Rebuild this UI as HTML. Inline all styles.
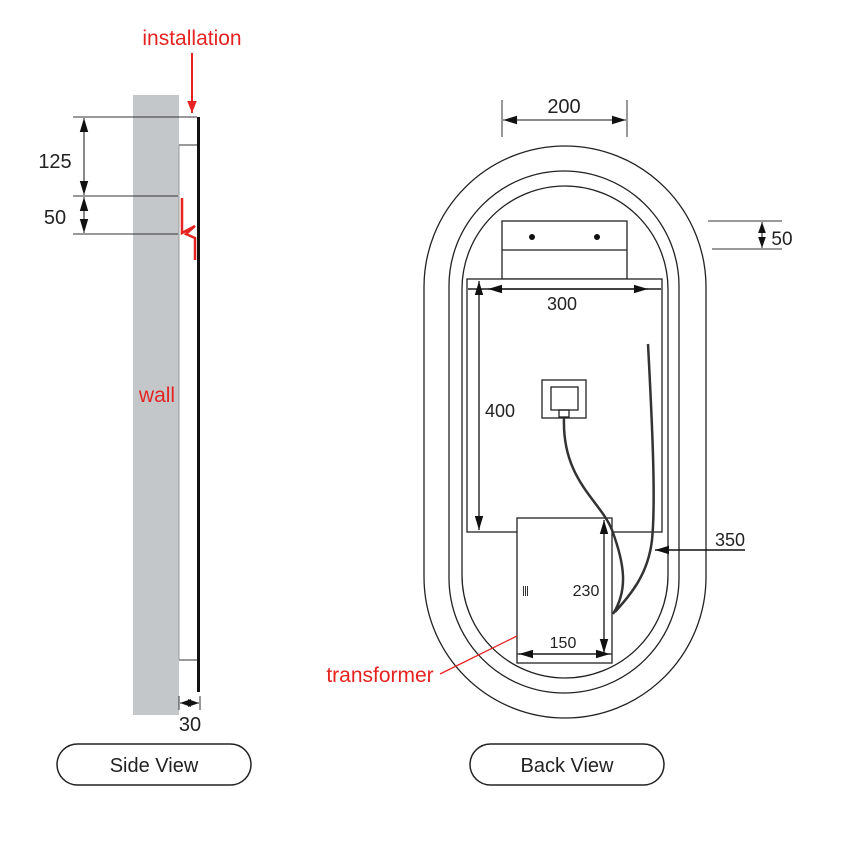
<!DOCTYPE html>
<html><head><meta charset="utf-8"><style>
html,body{margin:0;padding:0;background:#fff;}
svg{display:block}
text{font-family:"Liberation Sans",sans-serif;}
</style></head><body>
<svg width="852" height="852" viewBox="0 0 852 852" xmlns="http://www.w3.org/2000/svg">
<defs>
<marker id="a" viewBox="0 0 10 10" refX="10" refY="5" markerWidth="11" markerHeight="11" orient="auto-start-reverse" markerUnits="userSpaceOnUse"><path d="M0,1.5 L10,5 L0,8.5 Z" fill="#111"/></marker>
<marker id="b" viewBox="0 0 10 10" refX="10" refY="5" markerWidth="14" markerHeight="14" orient="auto-start-reverse" markerUnits="userSpaceOnUse"><path d="M0,2 L10,5 L0,8 Z" fill="#111"/></marker>
<marker id="r" viewBox="0 0 10 10" refX="10" refY="5" markerWidth="12" markerHeight="12" orient="auto" markerUnits="userSpaceOnUse"><path d="M0,1 L10,5 L0,9 Z" fill="#e52421"/></marker>
</defs>
<!-- SIDE VIEW -->
<text x="192" y="45" fill="#e52421" font-size="21" text-anchor="middle">installation</text>
<line x1="192" y1="53" x2="192" y2="113" stroke="#e52421" stroke-width="2" marker-end="url(#r)"/>
<rect x="133" y="95" width="46" height="620" fill="#c4c7ca"/>
<rect x="179" y="144" width="18" height="517" fill="#fff"/>
<line x1="179" y1="145" x2="197" y2="145" stroke="#333"/>
<line x1="179" y1="660" x2="197" y2="660" stroke="#333"/>
<line x1="179" y1="145" x2="179" y2="660" stroke="#999"/>
<line x1="198.5" y1="117" x2="198.5" y2="692" stroke="#111" stroke-width="3"/>
<line x1="73" y1="117" x2="197" y2="117" stroke="#333"/>
<line x1="73" y1="196" x2="178" y2="196" stroke="#333"/>
<line x1="73" y1="234" x2="178" y2="234" stroke="#333"/>
<line x1="84" y1="118" x2="84" y2="195" stroke="#111" marker-start="url(#b)" marker-end="url(#b)"/>
<line x1="84" y1="197" x2="84" y2="233" stroke="#111" marker-start="url(#b)" marker-end="url(#b)"/>
<text x="55" y="168" font-size="20" text-anchor="middle" fill="#222">125</text>
<text x="55" y="224" font-size="20" text-anchor="middle" fill="#222">50</text>
<path d="M182,198 L182,233 L195,226 L186,234 L195,238 L195,260" fill="none" stroke="#e52421" stroke-width="2.5"/>
<text x="157" y="402" fill="#e52421" font-size="21" text-anchor="middle">wall</text>
<line x1="179" y1="696" x2="179" y2="710" stroke="#333"/>
<line x1="200" y1="696" x2="200" y2="710" stroke="#333"/>
<line x1="180" y1="703" x2="199" y2="703" stroke="#111" marker-start="url(#a)" marker-end="url(#a)"/>
<text x="190" y="731" font-size="20" text-anchor="middle" fill="#222">30</text>
<rect x="57" y="744" width="194" height="41" rx="20.5" fill="#fff" stroke="#222" stroke-width="1.5"/>
<text x="154" y="772" font-size="20" text-anchor="middle" fill="#222">Side View</text>
<!-- BACK VIEW -->
<g fill="none" stroke="#222" stroke-width="1.3">
<rect x="424" y="146" width="282" height="572" rx="141"/>
<rect x="449" y="171" width="230" height="522" rx="115"/>
<rect x="462" y="186" width="206" height="492" rx="103"/>
<rect x="502" y="221" width="125" height="58" fill="#fff"/>
<line x1="502" y1="250" x2="627" y2="250"/>
<rect x="467" y="279" width="195" height="253" fill="#fff"/>
<rect x="542" y="380" width="44" height="38"/>
<rect x="551" y="387" width="27" height="23"/>
<rect x="559" y="410" width="10" height="7"/>
</g>
<circle cx="532" cy="237" r="3" fill="#111"/>
<circle cx="597" cy="237" r="3" fill="#111"/>
<line x1="468" y1="289" x2="661" y2="289" stroke="#111" stroke-width="1.3"/>
<line x1="488" y1="289" x2="661" y2="289" stroke="#111" stroke-width="1.3" marker-start="url(#b)"/>
<line x1="468" y1="289" x2="648" y2="289" stroke="#111" stroke-width="1.3" marker-end="url(#b)"/>
<text x="562" y="310" font-size="18" text-anchor="middle" fill="#222">300</text>
<line x1="479" y1="281" x2="479" y2="530" stroke="#111" stroke-width="1.3" marker-start="url(#b)" marker-end="url(#b)"/>
<text x="500" y="417" font-size="18" text-anchor="middle" fill="#222">400</text>
<line x1="502" y1="100" x2="502" y2="137" stroke="#333"/>
<line x1="627" y1="100" x2="627" y2="137" stroke="#333"/>
<line x1="503" y1="120" x2="626" y2="120" stroke="#111" marker-start="url(#b)" marker-end="url(#b)"/>
<text x="564" y="113" font-size="20" text-anchor="middle" fill="#222">200</text>
<line x1="708" y1="221" x2="782" y2="221" stroke="#333"/>
<line x1="712" y1="249" x2="782" y2="249" stroke="#333"/>
<line x1="762" y1="222" x2="762" y2="248" stroke="#111" marker-start="url(#a)" marker-end="url(#a)"/>
<text x="782" y="245" font-size="19" text-anchor="middle" fill="#222">50</text>
<rect x="517" y="518" width="95" height="145" fill="#fff" stroke="#222" stroke-width="1.3"/>
<line x1="517" y1="654" x2="612" y2="654" stroke="#222" stroke-width="1.3"/>
<line x1="604" y1="520" x2="604" y2="653" stroke="#111" stroke-width="1.3" marker-start="url(#b)" marker-end="url(#b)"/>
<line x1="519" y1="654" x2="610" y2="654" stroke="#111" stroke-width="1.3" marker-start="url(#b)" marker-end="url(#b)"/>
<text x="586" y="596" font-size="16" text-anchor="middle" fill="#222">230</text>
<text x="563" y="648" font-size="16" text-anchor="middle" fill="#222">150</text>
<g fill="#333"><rect x="523" y="586" width="1" height="10"/><rect x="525" y="586" width="1" height="10"/><rect x="527" y="586" width="1" height="10"/></g>
<path d="M564,418 C562,480 600,500 612,530 C625,565 628,590 613,614" fill="none" stroke="#333" stroke-width="2.5"/>
<path d="M648,344 C652,420 656,500 652,540 C648,575 630,595 615,612" fill="none" stroke="#333" stroke-width="2.5"/>
<line x1="745" y1="550" x2="655" y2="550" stroke="#111" stroke-width="1.5" marker-end="url(#b)"/>
<text x="730" y="546" font-size="18" text-anchor="middle" fill="#222">350</text>
<line x1="440" y1="674" x2="517" y2="636" stroke="#e52421" stroke-width="1.3"/>
<text x="380" y="682" fill="#e52421" font-size="21" text-anchor="middle">transformer</text>
<rect x="470" y="744" width="194" height="41" rx="20.5" fill="#fff" stroke="#222" stroke-width="1.5"/>
<text x="567" y="772" font-size="20" text-anchor="middle" fill="#222">Back View</text>
</svg>
</body></html>
